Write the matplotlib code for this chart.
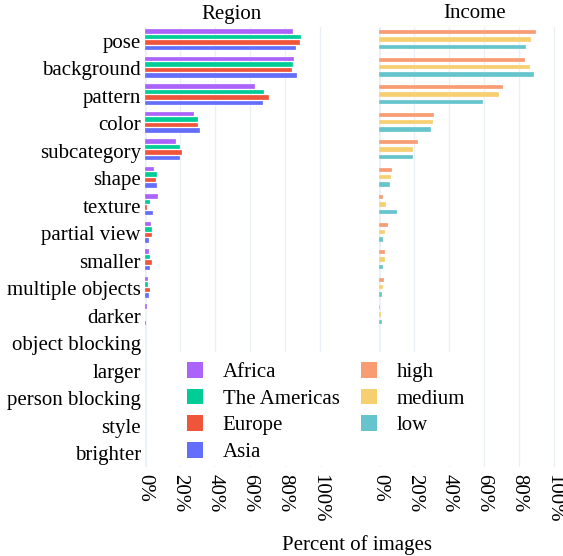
import matplotlib

matplotlib.use("Agg")
import matplotlib.pyplot as plt
import numpy as np
from matplotlib.patches import Patch, Rectangle

# Share of images per failure factor, split by region and by income group
factors = [
    "pose", "background", "pattern", "color", "subcategory", "shape",
    "texture", "partial view", "smaller", "multiple objects", "darker",
    "object blocking", "larger", "person blocking", "style", "brighter",
]

region_names = ["Africa", "The Americas", "Europe", "Asia"]
africa = [0.844, 0.853, 0.629, 0.282, 0.175, 0.051, 0.072, 0.036, 0.023, 0.015, 0.011, 0.002, 0.0, 0.0, 0.0, 0.0]
americas = [0.891, 0.844, 0.680, 0.303, 0.202, 0.067, 0.027, 0.040, 0.027, 0.017, 0.0, 0.0, 0.0, 0.0, 0.0, 0.0]
europe = [0.886, 0.838, 0.709, 0.301, 0.213, 0.065, 0.013, 0.040, 0.038, 0.027, 0.0, 0.0, 0.0, 0.0, 0.0, 0.0]
asia = [0.861, 0.869, 0.672, 0.312, 0.198, 0.067, 0.044, 0.023, 0.030, 0.021, 0.005, 0.002, 0.0, 0.0, 0.0, 0.0]

income_names = ["high", "medium", "low"]
high = [0.897, 0.835, 0.709, 0.312, 0.220, 0.071, 0.019, 0.052, 0.031, 0.025, 0.003, 0.0, 0.0, 0.0, 0.0, 0.0]
medium = [0.872, 0.864, 0.686, 0.310, 0.195, 0.067, 0.037, 0.031, 0.034, 0.019, 0.010, 0.0, 0.0, 0.0, 0.0, 0.0]
low = [0.841, 0.885, 0.595, 0.296, 0.191, 0.061, 0.100, 0.019, 0.019, 0.015, 0.014, 0.0, 0.0, 0.0, 0.0, 0.0]

region_colors = ["#AB63FA", "#00CC96", "#EF553B", "#636EFA"]
income_colors = ["#F89C74", "#F6CF71", "#66C5CC"]

GRID = "#EBF0F8"
W, H = 563, 556

plt.rcParams["font.family"] = ["Liberation Serif", "DejaVu Serif"]
plt.rcParams["font.size"] = 15

fig = plt.figure(figsize=(W / 100, H / 100), dpi=100)


def px_axes(left, top, width, height):
    return fig.add_axes([left / W, 1 - (top + height) / H, width / W, height / H])


ax_r = px_axes(145, 27, 178.5, 440)
ax_i = px_axes(379.3, 27, 183.7, 440)

y = np.arange(len(factors))


def draw_panel(ax, series, colors, step, xmax, show_labels):
    n = len(series)
    for k, (vals, col) in enumerate(zip(series, colors)):
        ax.barh(y + (k - (n - 1) / 2) * step - 0.04, vals, height=0.16, color=col,
                edgecolor="white", linewidth=0.2, zorder=3)
    ax.set_xlim(0, xmax)
    ax.set_ylim(len(factors) - 0.5, -0.5)
    ax.set_xticks([0, 0.2, 0.4, 0.6, 0.8, 1.0])
    ax.set_xticklabels(["0%", "20%", "40%", "60%", "80%", "100%"], rotation=270)
    ax.tick_params(axis="x", length=0, pad=5)
    ax.tick_params(axis="y", length=0, pad=3)
    ax.set_yticks(y)
    ax.set_yticklabels(factors if show_labels else [])
    ax.grid(axis="x", color=GRID, linewidth=1.0, zorder=0)
    ax.axvline(0, color=GRID, linewidth=2.0, zorder=1)
    for s in ax.spines.values():
        s.set_visible(False)


draw_panel(ax_r, [africa, americas, europe, asia], region_colors, 0.2, 1.02, True)
draw_panel(ax_i, [high, medium, low], income_colors, 0.27, 183.7 / 174.4, False)

fig.text(232 / W, 1 - 14 / H, "Region", ha="center", va="center")
fig.text(475 / W, 1 - 14 / H, "Income", ha="center", va="center")
fig.text(357 / W, 1 - 545 / H, "Percent of images", ha="center", va="center")

# white legend box sits over the lower part of both panels
fig.patches.append(Rectangle((147 / W, 1 - 466 / H), (482 - 147) / W, (466 - 352) / H,
                             transform=fig.transFigure, facecolor="white",
                             edgecolor="none", zorder=5))

handles = [Patch(facecolor=c, edgecolor="none") for c in region_colors + income_colors]
labels = region_names + income_names
fig.legend(handles, labels, ncol=2, loc="upper left",
           bbox_to_anchor=(187 / W, 1 - 362 / H), frameon=False,
           handlelength=0.77, handleheight=0.77, handletextpad=0.95,
           columnspacing=1.0, labelspacing=0.32, borderpad=0, borderaxespad=0)

fig.savefig("out.png", dpi=100, facecolor="white")
